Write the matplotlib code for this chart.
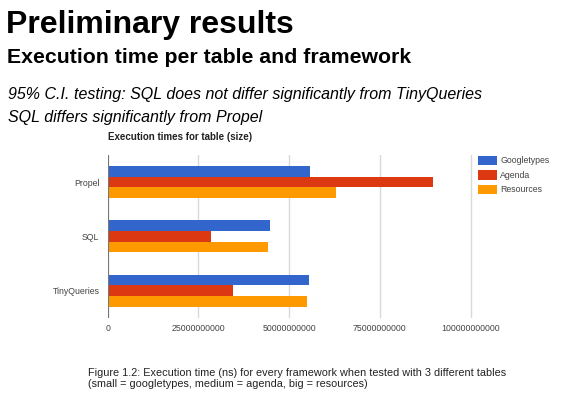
import matplotlib
matplotlib.use("Agg")
import matplotlib.pyplot as plt
import numpy as np

frameworks = ["Propel", "SQL", "TinyQueries"]
series = ["Googletypes", "Agenda", "Resources"]
googletypes = [55.8e9, 44.7e9, 55.4e9]
agenda = [89.7e9, 28.6e9, 34.5e9]
resources = [62.8e9, 44.3e9, 54.8e9]
xticks = [0, 25000000000, 50000000000, 75000000000, 100000000000]
colors = ["#3366CC", "#DC3912", "#FF9900"]

plt.rcParams['font.family'] = ['Liberation Sans', 'DejaVu Sans']

W, H = 583, 399
fig = plt.figure(figsize=(W / 100, H / 100), dpi=100)
fig.patch.set_facecolor("white")

def fx(px):
    return px / W

def fy(py):
    return 1 - py / H

fig.text(fx(6), fy(33), "Preliminary results", fontsize=23, fontweight="bold",
         ha="left", va="baseline", color="black")
fig.text(fx(7), fy(63), "Execution time per table and framework", fontsize=15.3,
         fontweight="bold", ha="left", va="baseline", color="black")
fig.text(fx(8), fy(99), "95% C.I. testing: SQL does not differ significantly from TinyQueries",
         fontsize=11.5, style="italic", ha="left", va="baseline", color="black")
fig.text(fx(8), fy(122), "SQL differs significantly from Propel",
         fontsize=11.5, style="italic", ha="left", va="baseline", color="black")

left, right = 107.7, 107.7 + 90.7 * 4.04
top, bottom = 155, 317.7
ax = fig.add_axes([fx(left), fy(bottom), fx(right - left), (bottom - top) / H])

y = np.arange(len(frameworks))
bh = 0.197
for i, (vals, name) in enumerate(zip([googletypes, agenda, resources], series)):
    ax.barh(y + (i - 1) * bh, vals, height=bh, color=colors[i], label=name, zorder=3)

ax.set_ylim(2.5, -0.5)
ax.set_xlim(0, 101e9)
ax.set_yticks(y)
ax.set_yticklabels(frameworks)
ax.set_xticks(xticks)
ax.set_xticklabels([str(v) for v in xticks])
ax.tick_params(axis="both", length=0, labelsize=6.3, colors="#444444")
ax.tick_params(axis="y", pad=6)
ax.tick_params(axis="x", pad=4.5)
ax.grid(axis="x", color="#d9d9d9", linewidth=1, zorder=0)
for s in ax.spines.values():
    s.set_visible(False)
ax.axvline(0, color="#777777", linewidth=1.5, zorder=4)
ax.set_facecolor("white")

fig.text(fx(108), fy(137), "Execution times for table (size)", fontsize=7.0,
         fontweight="bold", ha="left", va="center", color="#222222")

handles, labels = ax.get_legend_handles_labels()
leg = fig.legend(handles, labels, loc="upper left", bbox_to_anchor=(fx(474), fy(152)),
                 frameon=False, fontsize=6.3, handlelength=2.2, handleheight=1.3,
                 labelspacing=0.55, handletextpad=0.4, borderaxespad=0)
for t in leg.get_texts():
    t.set_color("#444444")

fig.text(fx(88), fy(373), "Figure 1.2: Execution time (ns) for every framework when tested with 3 different tables",
         fontsize=7.8, ha="left", va="center", color="#222222")
fig.text(fx(88), fy(384), "(small = googletypes, medium = agenda, big = resources)",
         fontsize=7.8, ha="left", va="center", color="#222222")

fig.savefig("out.png", dpi=100, facecolor="white")
